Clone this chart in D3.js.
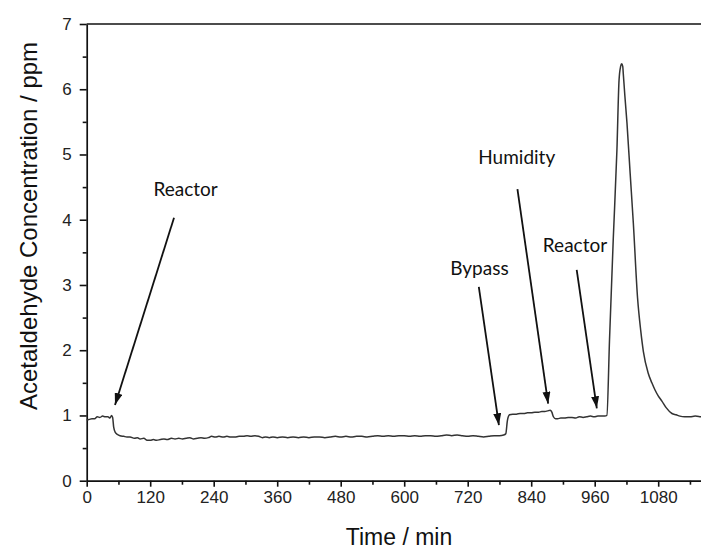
<!DOCTYPE html>
<html><head><meta charset="utf-8">
<script src="https://cdn.jsdelivr.net/npm/d3@7"></script>
<style>html,body{margin:0;padding:0;background:#fff;overflow:hidden}</style>
</head><body>
<script>
// ---- data ----
const times = [0,5,10,15,20,25,30,35,40,44,47,49,51,54,58,63,70,76,82,90,96,101,108,114,120,126,132,139,146,152,160,167,174,181,188,195,202,209,216,223,230,236,243,250,258,265,272,280,288,296,303,310,318,325,332,338,345,352,360,370,380,390,400,410,420,430,440,450,460,470,480,490,500,510,520,530,540,550,560,570,580,590,600,610,620,630,640,650,660,670,680,690,700,710,720,730,740,750,760,770,780,788,792,795,799,805,812,819,826,833,840,847,854,860,866,871,876,879,882,886,890,896,903,910,917,924,931,938,945,952,959,966,973,979,983,988,995,1002,1006,1009,1011,1013,1014,1017,1021,1027,1033,1041,1047,1052,1061,1068,1074,1080,1087,1095,1106,1114,1121,1130,1140,1150,1160,1170];
const values = [0.93,0.94,0.95,0.95,0.98,0.97,0.99,0.98,0.98,0.96,1.00,0.97,0.82,0.74,0.71,0.69,0.68,0.67,0.67,0.65,0.66,0.64,0.65,0.62,0.62,0.63,0.62,0.63,0.64,0.63,0.65,0.64,0.65,0.64,0.65,0.66,0.64,0.65,0.66,0.65,0.66,0.68,0.67,0.68,0.67,0.68,0.67,0.67,0.68,0.68,0.69,0.68,0.69,0.68,0.66,0.67,0.66,0.67,0.66,0.67,0.66,0.67,0.66,0.67,0.66,0.67,0.67,0.66,0.67,0.68,0.67,0.68,0.67,0.68,0.68,0.67,0.68,0.69,0.68,0.69,0.68,0.69,0.69,0.68,0.69,0.68,0.69,0.69,0.68,0.69,0.70,0.69,0.70,0.69,0.68,0.69,0.68,0.67,0.68,0.69,0.69,0.70,0.72,0.92,1.01,1.02,1.02,1.03,1.03,1.04,1.04,1.05,1.05,1.06,1.06,1.07,1.08,1.05,0.98,0.95,0.95,0.96,0.96,0.97,0.97,0.96,0.98,0.97,0.98,0.99,0.98,0.99,0.99,0.99,1.00,2.16,3.69,5.07,6.14,6.35,6.39,6.35,6.24,5.90,5.48,4.71,3.95,2.80,2.30,1.98,1.65,1.50,1.39,1.30,1.22,1.12,1.03,1.01,0.99,0.98,0.98,0.99,0.98,0.97];
const xTicks = [0,120,240,360,480,600,720,840,960,1080];
const yTicks = [0,1,2,3,4,5,6,7];
const annLabels = ["Reactor","Bypass","Humidity","Reactor"];
const annTextT = [126,687,740,862];
const annTextV = [4.36,3.15,4.85,3.50];
const arrowFromT = [165,741,814,926];
const arrowFromV = [4.03,2.97,4.47,3.23];
const arrowToT = [53.5,779,872,964];
const arrowToV = [1.16,0.85,1.18,1.11];

// ---- layout ----
const W = 701, H = 552;
const svg = d3.select("body").append("svg").attr("width", W).attr("height", H)
  .style("font-family", "'Liberation Sans', Arial, sans-serif");
const x = d3.scaleLinear().domain([0,1200]).range([86.7, 721.7]);
const y = d3.scaleLinear().domain([0,7]).range([480.7, 24]);

const defs = svg.append("defs");
defs.append("marker").attr("id","ah").attr("markerUnits","userSpaceOnUse")
  .attr("viewBox","0 0 12 8").attr("refX",12).attr("refY",4)
  .attr("markerWidth",12).attr("markerHeight",8).attr("orient","auto")
  .append("path").attr("d","M0,0 L12,4 L0,8 Z").attr("fill","#111");

// x axis (major + minor)
svg.append("g").attr("transform",`translate(0,${y(0)})`)
  .call(d3.axisBottom(x).tickValues(xTicks).tickSizeInner(6).tickSizeOuter(0).tickPadding(4).tickFormat(d3.format("d")));
const xMinor = svg.append("g").attr("transform",`translate(0,${y(0)})`)
  .call(d3.axisBottom(x).tickValues(d3.range(60,1200,120)).tickSizeInner(4).tickSizeOuter(0).tickFormat(""));
xMinor.select(".domain").remove();
// y axis
svg.append("g").attr("transform",`translate(${x(0)},0)`)
  .call(d3.axisLeft(y).tickValues(yTicks).tickSizeInner(7).tickSizeOuter(0).tickPadding(8).tickFormat(d3.format("d")));
const yMinor = svg.append("g").attr("transform",`translate(${x(0)},0)`)
  .call(d3.axisLeft(y).tickValues(d3.range(0.5,7,1)).tickSizeInner(4).tickSizeOuter(0).tickFormat(""));
yMinor.select(".domain").remove();

svg.selectAll(".domain").attr("stroke","#111").attr("stroke-width",1.7);
svg.selectAll(".tick line").attr("stroke","#111").attr("stroke-width",1.6);
svg.selectAll(".tick text").attr("fill","#222").style("font-size","17px")
  .style("font-family","'Liberation Sans', Arial, sans-serif");

// top border
svg.append("line").attr("x1",x(0)).attr("x2",W+5).attr("y1",y(7)).attr("y2",y(7))
  .attr("stroke","#111").attr("stroke-width",1.7);

// data line
const pts = times.map((t,i)=>[t,values[i]]);
svg.append("path").datum(pts)
  .attr("d", d3.line().curve(d3.curveMonotoneX).x(d=>x(d[0])).y(d=>y(d[1])))
  .attr("fill","none").attr("stroke","#333").attr("stroke-width",1.5).attr("stroke-linejoin","round");

// annotations
const ann = svg.append("g");
annLabels.forEach((lab,i)=>{
  ann.append("text").attr("x",x(annTextT[i])).attr("y",y(annTextV[i]))
    .text(lab).attr("fill","#111")
    .style("font-family","Lato, 'Open Sans', sans-serif").style("font-size","19px");
  ann.append("line").attr("x1",x(arrowFromT[i])).attr("y1",y(arrowFromV[i]))
    .attr("x2",x(arrowToT[i])).attr("y2",y(arrowToV[i]))
    .attr("stroke","#111").attr("stroke-width",1.8).attr("marker-end","url(#ah)");
});

// axis titles
svg.append("text").attr("x",399).attr("y",545).attr("text-anchor","middle")
  .style("font-size","23px").attr("fill","#111").text("Time / min");
svg.append("text").attr("transform",`translate(37,226) rotate(-90)`).attr("text-anchor","middle")
  .style("font-size","24px").attr("fill","#111").text("Acetaldehyde Concentration / ppm");
</script>
</body></html>
